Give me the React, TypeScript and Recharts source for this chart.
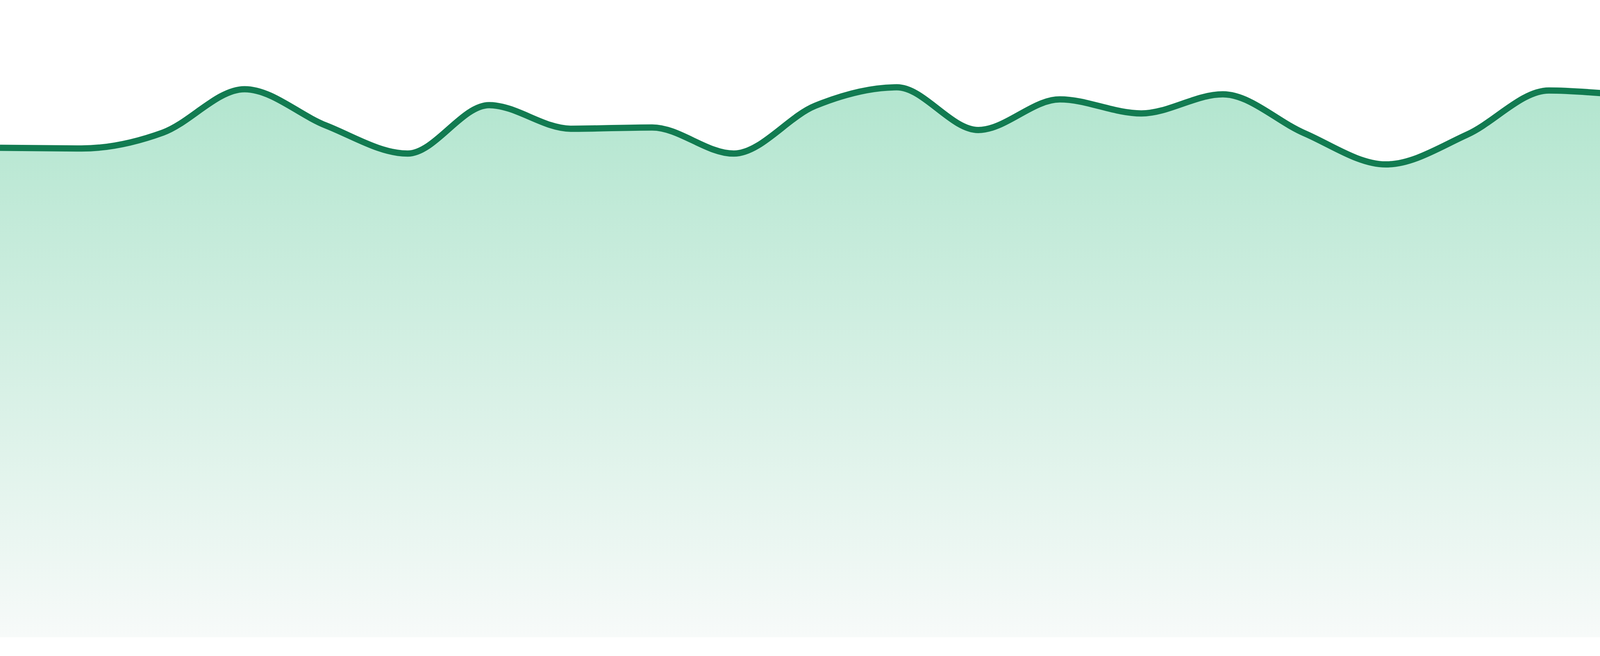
import { AreaChart, Area, XAxis, YAxis } from "recharts";

// one point per step, evenly spaced across the full width
const labels: string[] = [
  "P1", "P2", "P3", "P4", "P5", "P6", "P7", "P8", "P9", "P10", "P11", "P12",
  "P13", "P14", "P15", "P16", "P17", "P18", "P19", "P20", "P21", "P22", "P23", "P24",
];

const values: number[] = [
  76.8, 76.7, 79.2, 86.0, 80.3, 75.9, 83.5, 79.8, 80.0, 75.9, 83.4, 86.3,
  79.6, 84.4, 82.2, 85.2, 79.1, 74.2, 78.9, 85.8, 85.1, 84.7, 87.6, 86.3,
];

const data = labels.map((label, i) => ({ label, value: values[i] }));

export default function App() {
  return (
    <div style={{ position: "absolute", left: 0, top: 0, background: "#fff" }}>
      <AreaChart
        width={4800}
        height={1680}
        data={data}
        margin={{ top: 0, right: 0, bottom: 48, left: 0 }}
      >
        <defs>
          <linearGradient id="fillGreen" x1="0" y1="0" x2="0" y2="1">
            <stop offset="0%" stopColor="#b1e5ce" />
            <stop offset="100%" stopColor="#f7faf9" />
          </linearGradient>
        </defs>
        <XAxis dataKey="label" hide />
        <YAxis hide domain={[0, 100]} />
        <Area
          type="monotone"
          dataKey="value"
          stroke="#127b51"
          strokeWidth={16}
          fill="url(#fillGreen)"
          fillOpacity={1}
          dot={false}
          activeDot={false}
          isAnimationActive={false}
        />
      </AreaChart>
    </div>
  );
}
